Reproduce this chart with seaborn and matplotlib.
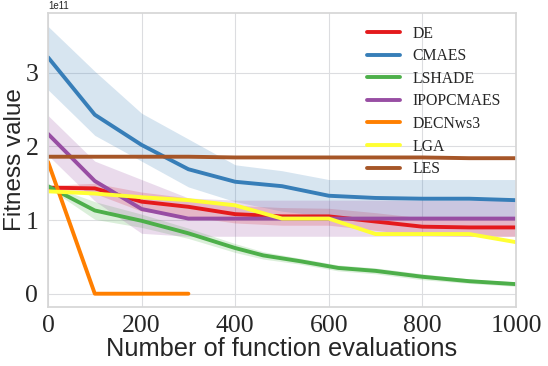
import numpy as np
import pandas as pd
import matplotlib
matplotlib.use("Agg")
import matplotlib.pyplot as plt
import seaborn as sns

# evaluations (x) and values in units of 1e11
evals = [0, 100, 200, 300, 400, 500, 600, 700, 800, 900, 1000]
evals_lshade = [0, 100, 200, 300, 400, 460, 540, 620, 700, 800, 900, 1000]
evals_decn = [0, 100, 200, 300]

de_mean = [1.44, 1.43, 1.25, 1.18, 1.08, 1.05, 1.05, 0.98, 0.91, 0.90, 0.90]
de_lo = [1.41, 1.36, 1.12, 1.05, 0.96, 0.93, 0.93, 0.86, 0.79, 0.78, 0.78]
de_hi = [1.47, 1.50, 1.38, 1.30, 1.20, 1.17, 1.16, 1.10, 1.03, 1.02, 1.02]

cmaes_mean = [3.21, 2.43, 2.02, 1.69, 1.52, 1.46, 1.33, 1.30, 1.29, 1.29, 1.27]
cmaes_lo = [2.77, 2.15, 1.80, 1.45, 1.25, 1.12, 1.05, 1.04, 1.03, 1.03, 1.03]
cmaes_hi = [3.63, 3.02, 2.45, 2.10, 1.75, 1.67, 1.55, 1.55, 1.55, 1.55, 1.55]

lshade_mean = [1.46, 1.13, 0.99, 0.82, 0.62, 0.52, 0.44, 0.35, 0.31, 0.23, 0.17, 0.13]
lshade_lo = [1.44, 1.01, 0.90, 0.75, 0.56, 0.47, 0.40, 0.31, 0.27, 0.19, 0.14, 0.10]
lshade_hi = [1.48, 1.25, 1.08, 0.89, 0.68, 0.57, 0.48, 0.39, 0.35, 0.27, 0.20, 0.16]

ipop_mean = [2.17, 1.53, 1.15, 1.02, 1.02, 1.02, 1.02, 1.02, 1.02, 1.02, 1.02]
ipop_lo = [1.88, 1.26, 0.82, 0.78, 0.78, 0.78, 0.78, 0.78, 0.78, 0.78, 0.78]
ipop_hi = [2.42, 1.80, 1.55, 1.30, 1.27, 1.27, 1.27, 1.27, 1.27, 1.27, 1.27]

decn_mean = [1.79, 0.0, 0.0, 0.0]
lga_mean = [1.39, 1.36, 1.31, 1.27, 1.20, 1.02, 1.02, 0.81, 0.81, 0.81, 0.70]
les_mean = [1.86, 1.86, 1.86, 1.86, 1.85, 1.85, 1.85, 1.85, 1.85, 1.84, 1.84]

scale = 1e11
colors = sns.color_palette("Set1", 7)

sns.set_theme(style="whitegrid", rc={"grid.color": "#dcdde0", "grid.linewidth": 0.8,
                                     "axes.edgecolor": "#d6d6d6"})
plt.rcParams['font.family'] = ['Liberation Serif', 'DejaVu Serif']

fig, ax = plt.subplots(figsize=(5.48, 3.66), dpi=100)
fig.subplots_adjust(left=0.0876, right=0.9416, bottom=0.161, top=0.9645)

series = [
    ("DE", evals, de_mean, de_lo, de_hi),
    ("CMAES", evals, cmaes_mean, cmaes_lo, cmaes_hi),
    ("LSHADE", evals_lshade, lshade_mean, lshade_lo, lshade_hi),
    ("IPOPCMAES", evals, ipop_mean, ipop_lo, ipop_hi),
    ("DECNws3", evals_decn, decn_mean, None, None),
    ("LGA", evals, lga_mean, None, None),
    ("LES", evals, les_mean, None, None),
]

for (name, xs, m, lo, hi), c in zip(series, colors):
    df = pd.DataFrame({"x": xs, "y": np.array(m) * scale})
    sns.lineplot(data=df, x="x", y="y", ax=ax, color=c, lw=2.8, label=name)
    if lo is not None:
        ax.fill_between(xs, np.array(lo) * scale, np.array(hi) * scale,
                        color=c, alpha=0.2, lw=0)

ax.set_xlim(0, 1000)
ax.set_xticks([0, 200, 400, 600, 800, 1000])
ax.set_yticks([0, 1e11, 2e11, 3e11])
ax.tick_params(labelsize=18.5)
ax.tick_params(axis='x', pad=0)
ax.tick_params(axis='y', pad=1)
for t in ax.get_xticklabels() + ax.get_yticklabels():
    t.set_fontfamily('Liberation Serif')
ax.yaxis.get_offset_text().set_fontsize(7)
ax.yaxis.get_offset_text().set_fontfamily('Liberation Sans')

ax.set_xlabel("Number of function evaluations", fontsize=18.3,
              fontfamily='Liberation Sans', labelpad=0)
ax.set_ylabel("Fitness value", fontsize=17.5, fontfamily='Liberation Sans')
ax.yaxis.set_label_coords(-0.047, 0.5)

leg = ax.legend(loc='upper right', frameon=False, fontsize=11.3,
                handlelength=2.1, handletextpad=0.8, labelspacing=0.42,
                borderaxespad=0.4, bbox_to_anchor=(0.995, 1.0))

fig.savefig("out.png", dpi=100)
